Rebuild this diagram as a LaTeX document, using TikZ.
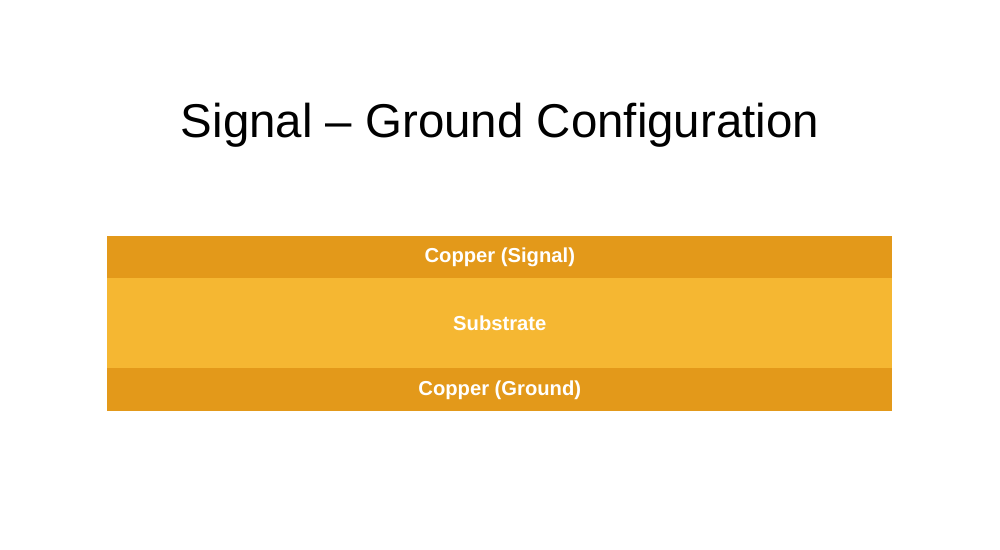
\documentclass[tikz,border=0pt]{standalone}
\usepackage{fontspec}
\setmainfont{Liberation Sans}
\definecolor{cu}{HTML}{E3991A}
\definecolor{sub}{HTML}{F5B732}
\begin{document}
\begin{tikzpicture}[x=0.02cm,y=-0.02cm,
  layer/.style={draw=none,inner sep=0,minimum width=15.7cm,anchor=north west},
  lbl/.style={text=white,font=\fontsize{11.5pt}{13pt}\selectfont\bfseries}]
\useasboundingbox (0,0) rectangle (1000,550);
\node (title) at (500,125) {\fontsize{27pt}{32pt}\selectfont Signal -- Ground Configuration};
\node[layer,fill=cu,minimum height=0.84cm] (sig) at (107,236) {};
\node[layer,fill=sub,minimum height=1.8cm] (subs) at (107,278) {};
\node[layer,fill=cu,minimum height=0.86cm] (gnd) at (107,368) {};
\node[lbl] at (sig.center) {Copper (Signal)};
\node[lbl] at (subs.center) {Substrate};
\node[lbl] at (gnd.center) {Copper (Ground)};
\end{tikzpicture}
\end{document}
